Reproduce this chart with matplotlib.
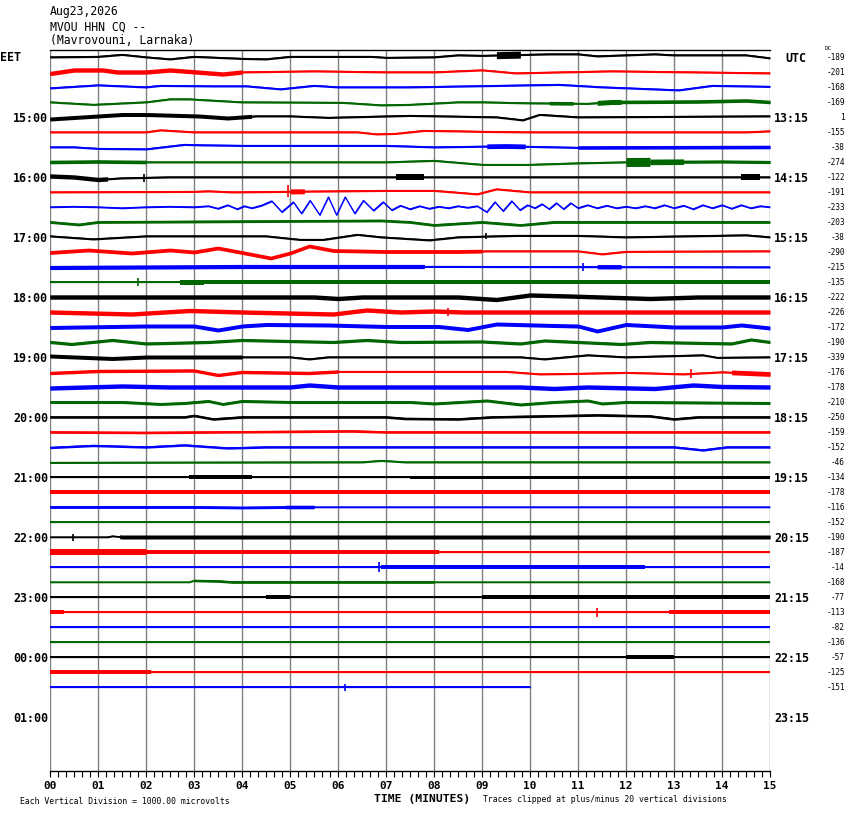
import numpy as np
import matplotlib.pyplot as plt
from matplotlib.ticker import MultipleLocator

W, H = 850, 814
ROW_PX = 15.0   # pixels between two trace lines

# HEADER
station_date = 'Aug23,2026'
station_code = 'MVOU HHN CQ --'
station_name = '(Mavrovouni, Larnaka)'

trace_colors = ['#000000', '#ff0000', '#0000ff', '#006600']

# DC offset printed at the right end of each trace
dc_values = [-189, -201, -168, -169, 1, -155, -38, -274, -122, -191, -233, -203,
             -38, -290, -215, -135, -222, -226, -172, -190, -339, -176, -178, -210,
             -250, -159, -152, -46, -134, -178, -116, -152, -190, -187, -14, -168,
             -77, -113, -82, -136, -57, -125, -151]

eet_labels = ['EET', '15:00', '16:00', '17:00', '18:00', '19:00', '20:00',
              '21:00', '22:00', '23:00', '00:00', '01:00']
utc_labels = ['UTC', '13:15', '14:15', '15:15', '16:15', '17:15', '18:15',
              '19:15', '20:15', '21:15', '22:15', '23:15']
minute_labels = ['%02d' % m for m in range(16)]

# slow wander of each trace, (minute, pixels up)
wander = [
    [(0, 0), (1, 0.5), (1.5, 2.5), (2, 0), (2.5, -2), (3, 0.5), (4, -1.5), (4.5, -2), (5, 0.5), (6.7, 0.5), (7, -0.5),
     (8, 0), (8.5, 2), (9, 1.5), (10.4, 3), (11, 3), (11.4, 1), (12.6, 3), (13, 2), (14.5, 2), (15, -1)],
    [(0, -1.5), (0.5, 2), (1.1, 2), (1.4, 0), (2, 0), (2.5, 2), (3.6, -2), (4, 0), (5.5, 1), (7, 0), (8, 0), (9, 2),
     (9.7, -1), (11.7, 1), (15, -1)],
    [(0, -1), (1, 2), (2, 0), (2.3, 1.5), (3.4, 1), (4.1, 1), (4.8, -2), (5.5, 1.5), (6, 0), (7.5, 0), (10.6, 2.5),
     (11.5, 0), (13.1, -3), (13.8, 1.5), (15, 0.5)],
    [(0, 0), (0.9, -2.5), (2, 0), (2.5, 3), (2.9, 3), (4, 0), (6.1, -0.5), (6.9, -3), (7.5, -2.5), (8.5, 0), (9, 0),
     (10, -1), (11.2, -1.5), (11.7, 0), (13.5, 0.5), (14.5, 1.5), (15, 0)],
    [(0, -2), (1, 1), (1.5, 2.5), (2, 2.5), (3.1, 1), (3.7, -1), (4.3, 1), (5, 1), (5.8, -0.5), (7.5, 1.5), (9.3, 0),
     (9.85, -3), (10.2, 2.5), (11, 0), (15, 1)],
    [(0, 0), (2, 0), (2.3, 2), (3, 0), (6.4, 0), (6.8, -2), (7.2, -1.5), (7.8, 1.5), (8.5, 1), (9, 0.5), (10, 0),
     (14.5, 0), (15, 1)],
    [(0, 0), (0.5, 0), (1, -1.5), (2, -2), (2.8, 2.5), (3.2, 2), (4, 1.5), (7, 1.5), (8, 0), (9.5, 1), (11, -0.5),
     (15, 0)],
    [(0, 0), (1, 0.5), (2, 0), (7, 0), (8, 1.5), (9, -2.5), (10, -2.5), (11, -1), (12, 0), (14, 0.5), (15, 0)],
    [(0, 1), (0.5, 0), (1, -2.5), (1.5, -1), (2.5, 0), (15, 0)],
    [(0, 0), (3, 0.5), (3.3, 1), (3.8, 0), (7, 1.5), (8, 1.5), (8.9, -2), (9.3, 3), (10, 0), (15, 0)],
    None,  # row 10 is the wave train below
    [(0, 0), (0.6, -2.5), (1, 0), (6.9, 1.5), (7.5, 0), (8, -3), (9, 0), (9.8, -3), (10.5, 0), (15, 0)],
    [(0, 1), (0.9, -2), (2, 1), (3, 1), (4.5, 1), (5.2, -2.5), (5.7, -2.5), (6.4, 2.5), (6.9, 0), (7.9, -3), (8.5, 0),
     (9.7, 1.5), (11, 1.5), (12, 0), (14.5, 2), (15, 0)],
    [(0, -0.5), (0.8, 2), (1.7, -1), (2.5, 2), (3, 0), (3.5, 4), (4, -0.5), (4.6, -6), (5, -1), (5.4, 6), (5.9, 1.5),
     (7, 0.5), (8.5, 0.5), (9.2, 1), (11, 1), (11.5, -2), (12, 0.5), (15, 1)],
    [(0, -0.5), (4, 0.5), (8, 0.5), (15, 0)],
    [(0, 0), (15, 0)],
    [(0, 0), (5.5, 0), (6, -1.5), (6.5, 0), (8.5, 0), (9.3, -2.5), (10, 2), (10.8, 1), (12.5, -1.5), (13.5, 0), (15, 0)],
    [(0, 0), (1.7, -2), (2.9, 1.5), (4, 0), (5.9, -2), (6.6, 2), (7.3, 0), (8, 1), (8.6, 0), (15, 0)],
    [(0, -0.5), (2, 1), (3, 1), (3.5, -3), (4, 1), (4.5, 2.5), (5.8, 2), (7, 0.5), (8.1, 0.5), (8.7, -2.5), (9.3, 3),
     (10.5, 1.5), (11, 1), (11.4, -4), (12, 2.5), (13, 0), (14, 0), (14.4, 2), (15, -1)],
    [(0, 0), (0.45, -2), (1.3, 2), (2, -1.5), (3.3, 0), (4, 2), (5.9, 0), (6.6, 2), (7.3, 0), (9, 0.5), (9.8, -1.5),
     (10.3, 1.5), (11.9, -2), (12.5, 0), (14.2, -1.5), (14.6, 2.5), (15, 0)],
    [(0, 1), (1.3, -1.5), (2, 0), (5, 0), (5.4, -2), (5.8, 0), (9.8, 0), (10.3, -2), (11.2, 2), (12, 0), (13.6, 2),
     (13.9, -0.5), (15, 0)],
    [(0, -1), (1, 1), (3, 1.5), (3.5, -3), (4, 0), (5.4, -1), (6, 0.5), (9.5, 0.5), (10.2, -2), (11, -1.5), (12, -0.5),
     (13.2, -2), (14, 0), (15, -2)],
    [(0, -1), (1.5, 1), (2.5, 0), (5, 0), (5.4, 2), (6, 0), (9.8, 0), (10.5, -1.5), (11.2, 0), (12.6, -1.5), (13.4, 2),
     (14, 0.5), (15, 0)],
    [(0, 0), (1.5, 0), (2.3, -2), (2.8, -1), (3.3, 1), (3.6, -2), (4, 1), (5, 0), (7.5, 0), (8, -1.5), (9.1, 1.5),
     (9.8, -2.5), (10.5, 0), (11.2, 1.5), (11.5, -1.5), (12, 0), (15, -1)],
    [(0, 0), (2.8, 0), (3.0, 1.5), (3.4, -2), (4, 0), (7, 0), (7.4, -1.5), (8.5, -2), (9.2, 0), (11.4, 2), (12.5, 1),
     (13, -2), (13.5, 0), (15, 0)],
    [(0, 0), (2, -0.5), (6.3, 1), (7, 0), (15, 0)],
    [(0, -0.5), (0.9, 1.5), (2, 0), (2.8, 2), (3.7, -1), (4.5, 0), (13, 0), (13.6, -3), (14.1, 0), (15, 0)],
    [(0, -0.5), (6.5, 0), (6.9, 1.5), (7.4, 0), (15, 0)],
    [(0, 0), (15, 0)],
    [(0, 0), (15, 0)],
    [(0, 0), (3, 0), (4, -0.5), (5, 0), (15, 0)],
    [(0, 0), (15, 0)],
    [(0, 0), (1.2, 0), (1.3, 1), (1.5, 0), (15, 0)],
    [(0, 0), (15, 0)],
    [(0, 0), (15, 0)],
    [(0, 0), (2.9, 0), (3.0, 1.5), (3.5, 1), (3.8, 0), (15, 0)],
    [(0, 0), (15, 0)],
    [(0, 0), (15, 0)],
    [(0, 0), (15, 0)],
    [(0, 0), (15, 0)],
    [(0, 0), (15, 0)],
    [(0, 0), (15, 0)],
    [(0, 0), (10, 0)],   # last trace stops at minute 10
]

# the blue trace at 16:30 with the long period wave train
osc_t = [0, 0.5, 1, 1.5, 2, 2.5, 3, 3.3, 3.5, 3.7, 3.9, 4.05, 4.2, 4.4, 4.62, 4.83, 5.07, 5.24, 5.42, 5.62, 5.80,
         5.97, 6.15, 6.35, 6.53, 6.74, 6.94, 7.12, 7.3, 7.5, 7.7, 7.9, 8.1, 8.3, 8.5, 8.7, 8.9, 9.10, 9.27, 9.44,
         9.62, 9.79, 9.95, 10.1, 10.25, 10.4, 10.55, 10.7, 10.85, 11.0, 11.2, 11.4, 11.6, 11.8, 12.0, 12.2, 12.4,
         12.6, 12.8, 13.0, 13.2, 13.4, 13.6, 13.8, 14.0, 14.2, 14.4, 14.6, 14.8, 15]
osc_y = [0, 0.5, 0, -1, 0, 0.5, 0, 1, -1.5, 2, -2, 1, -1, 1.5, 6, -5, 5, -6.5, 6.5, -8, 10,
         -8, 10, -6.5, 6.5, -3.5, 5, -3, 1.5, -2, 1, -1.5, 0.5, -1, 1, -0.5, 1, -5, 5, -4,
         6, -3, 2, -1, 3, -2, 4, -2, 4, -1, 2, -1, 1.5, -1, 0.5, -1, 1,
         -1, 2, -1, 1.5, -2, 2, -1, 2, -1.5, 2, -1, 1, 0]
wander[10] = list(zip(osc_t, osc_y))

# half thickness of the noise band (pixels)
noise = [1.0, 1.0, 1.0, 1.0, 1.0, 1.0, 1.0, 1.0, 1.0, 1.0, 0.8, 1.4,
         1.0, 1.0, 1.0, 1.0, 2.2, 2.2, 2.0, 1.6, 1.0, 1.0, 2.2, 1.5,
         1.3, 1.3, 1.2, 1.0, 1.0, 1.6, 0.8, 0.9, 0.8, 0.8, 0.8, 0.8,
         0.8, 0.8, 0.6, 1.0, 1.3, 0.7, 0.8]

# bursts: (row, start minute, end minute, half width in pixels)
bursts = [
    (0, 9.3, 9.8, 3.5), (1, 0, 4, 2.2), (3, 10.4, 10.9, 1.8), (3, 11.4, 11.9, 2.5), (3, 11.9, 15, 1.8),
    (4, 0, 4.2, 2.0), (6, 9.1, 9.9, 2.4), (6, 11, 15, 1.8), (7, 0, 2, 1.8), (7, 12, 12.5, 4.5),
    (7, 12.5, 13.2, 2.8), (7, 13.2, 15, 1.6), (8, 0, 1.2, 2.2), (8, 1.85, 2.05, 4), (8, 7.2, 7.8, 3),
    (8, 14.4, 14.8, 3), (9, 4.9, 5.0, 6), (9, 5.0, 5.3, 2.5), (12, 9.0, 9.15, 3), (13, 0, 9, 1.9),
    (14, 0, 7.8, 2.1), (14, 11.05, 11.15, 4), (14, 11.4, 11.9, 2.2), (15, 1.8, 1.88, 4), (15, 2.7, 3.2, 2.5),
    (15, 3.2, 15, 1.7), (17, 8.25, 8.35, 4), (20, 0, 4, 2.0), (21, 0, 6, 1.7), (21, 13.3, 13.4, 4.5),
    (21, 14.2, 15, 2.4), (28, 2.9, 4.2, 1.6), (28, 7.5, 15, 1.5), (30, 0, 5.5, 1.4), (30, 4.9, 5.5, 1.8),
    (32, 0.45, 0.52, 3.5), (32, 1.45, 15, 2.0), (33, 0, 2, 2.6), (33, 2, 6, 2.0), (33, 6, 8.1, 2.2),
    (34, 6.82, 6.9, 5), (34, 6.9, 12.4, 1.6), (34, 11.8, 12.4, 2.2), (35, 3, 8, 1.3), (36, 0, 5, 1.4),
    (36, 4.5, 5, 2.0), (36, 9, 15, 1.6), (37, 0, 0.3, 1.8), (37, 11.35, 11.45, 4.5), (37, 11.45, 12.4, 1.4),
    (37, 12.9, 15, 1.8), (38, 0, 14.6, 1.3), (40, 12, 13, 1.9), (41, 0, 2.1, 2.2), (42, 6.1, 6.2, 3.5),
    (42, 6.2, 10, 1.4),
]


def trace_xy(r):
    t = np.array([k[0] for k in wander[r]], dtype=float)
    y = r - np.array([k[1] for k in wander[r]], dtype=float) / ROW_PX
    return t, y


def fig_xy(x, y):
    return x / W, 1 - y / H


fig = plt.figure(figsize=(W / 100, H / 100), dpi=100)
ax = fig.add_axes([50 / W, (H - 771) / H, 720 / W, 721 / H])
ax.set_xlim(0, 15)
ax.set_ylim((771 - 57) / ROW_PX, (50 - 57) / ROW_PX)

for m in range(16):
    ax.axvline(m, color='#808080', lw=1.0, zorder=0)

# TRACES
for r in range(len(wander)):
    t, y = trace_xy(r)
    c = trace_colors[r % 4]
    w = noise[r] / ROW_PX
    ax.fill_between(t, y - w, y + w, color=c, lw=0, zorder=2)
    ax.plot(t, y, color=c, lw=0.9, zorder=2, solid_joinstyle='round')

for r, t0, t1, amp in bursts:
    t, y = trace_xy(r)
    c = trace_colors[r % 4]
    if t1 - t0 <= 0.2:
        # single spike
        tm = 0.5 * (t0 + t1)
        ym = np.interp(tm, t, y)
        ax.vlines(tm, ym - amp / ROW_PX, ym + amp / ROW_PX, color=c, lw=1.2, zorder=2)
        continue
    seg = np.unique(np.concatenate([[t0, t1], t[(t > t0) & (t < t1)]]))
    ys = np.interp(seg, t, y)
    ax.fill_between(seg, ys - amp / ROW_PX, ys + amp / ROW_PX, color=c, lw=0, zorder=2)

# AXES STYLE
for side in ['left', 'right']:
    ax.spines[side].set_visible(False)
ax.spines['top'].set_linewidth(1.0)
ax.spines['bottom'].set_linewidth(1.0)
ax.set_yticks([])
ax.xaxis.set_major_locator(MultipleLocator(1))
ax.xaxis.set_minor_locator(MultipleLocator(1 / 6))
ax.tick_params(axis='x', which='both', direction='out', length=4.5, width=0.8, pad=2.5)
ax.set_xticks(range(16))
ax.set_xticklabels(minute_labels, fontfamily='DejaVu Sans Mono', fontweight='bold', fontsize=8)

# HOUR LABELS
mono = 'DejaVu Sans Mono'
for i, lab in enumerate(eet_labels):
    r = i * 4
    if i == 0:
        ax.annotate(lab, xy=(0, r), xycoords=('figure pixels', 'data'), ha='left', va='center',
                    fontfamily=mono, fontweight='bold', fontsize=8.4, annotation_clip=False)
    else:
        ax.annotate(lab, xy=(48, r + 0.13), xycoords=('figure pixels', 'data'), ha='right', va='center',
                    fontfamily=mono, fontweight='bold', fontsize=8.4, annotation_clip=False)
for i, lab in enumerate(utc_labels):
    r = i * 4
    x0 = 785 if i == 0 else 774
    ax.annotate(lab, xy=(x0, r + 0.13), xycoords=('figure pixels', 'data'), ha='left', va='center',
                fontfamily=mono, fontweight='bold', fontsize=8.4, annotation_clip=False)

for r, v in enumerate(dc_values):
    ax.annotate(str(v), xy=(845, r + 0.05), xycoords=('figure pixels', 'data'), ha='right', va='center',
                fontfamily=mono, fontsize=5.6, annotation_clip=False)
fig.text(*fig_xy(825, 49), 'DC', fontfamily=mono, fontsize=4.3, ha='left', va='center')

# HEADER AND FOOTER
for yy, s in zip([12, 27, 41], [station_date, station_code, station_name]):
    fig.text(*fig_xy(50, yy), s, fontfamily=mono, fontsize=8.3, ha='left', va='center')

fig.text(*fig_xy(20, 801), 'Each Vertical Division = 1000.00 microvolts',
         fontfamily=mono, fontsize=5.9, ha='left', va='center')
fig.text(*fig_xy(422, 799), 'TIME (MINUTES)', fontfamily=mono, fontweight='bold',
         fontsize=8.2, ha='center', va='center')
fig.text(*fig_xy(483, 800), 'Traces clipped at plus/minus 20 vertical divisions',
         fontfamily=mono, fontsize=5.9, ha='left', va='center')

fig.savefig('out.png', dpi=100)
